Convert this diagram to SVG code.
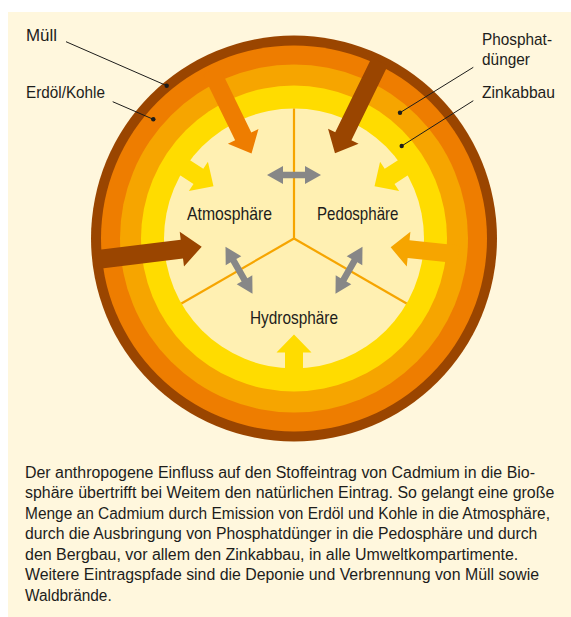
<svg xmlns="http://www.w3.org/2000/svg" width="571" height="617" viewBox="0 0 571 617">
  <style>
    .t { font-family: "Liberation Sans", Arial, sans-serif; fill: #1d1d1b; }
    .lbl { font-size: 17px; }
    .cmp { font-size: 18.5px; }
    .par { font-size: 16px; }
    .lead { stroke: #1d1d1b; stroke-width: 1; fill: none; }
    .dot { fill: #1d1d1b; }
    .div { stroke: #f6a500; stroke-width: 2.2; fill: none; }
    .brown { fill: #9a4500; }
    .orange { fill: #ee7d00; }
    .amber { fill: #f6a500; }
    .yellow { fill: #ffdc00; }
    .gray { fill: #878787; }
  </style>
  <defs>
    <polygon id="yarrow" points="140,-9 114,-9 114,-17.5 96,0 114,17.5 114,9 140,9"/>
    <polygon id="garrow" points="-27,-63.5 -11,-72.5 -11,-66.8 11,-66.8 11,-72.5 27,-63.5 11,-54.5 11,-60.2 -11,-60.2 -11,-54.5"/>
  </defs>
  <rect x="8" y="12" width="563" height="605" fill="#fff7dd"/>

  <g id="rings">
    <circle cx="294" cy="238.5" r="203" class="brown"/>
    <circle cx="294" cy="238.5" r="193" class="orange"/>
    <circle cx="294" cy="238.5" r="174" class="amber"/>
    <circle cx="294" cy="238.5" r="153" class="yellow"/>
    <circle cx="294" cy="238.5" r="130" fill="#fff0b2"/>
  </g>

  <g id="dividers">
    <line x1="294" y1="238.5" x2="294" y2="108.5" class="div"/>
    <line x1="294" y1="238.5" x2="181.4" y2="303.5" class="div"/>
    <line x1="294" y1="238.5" x2="406.6" y2="303.5" class="div"/>
  </g>

  <g id="node-atmosphaere"><text class="t cmp" x="187" y="220" textLength="85" lengthAdjust="spacingAndGlyphs">Atmosphäre</text></g>
  <g id="node-pedosphaere"><text class="t cmp" x="317" y="220" textLength="81.5" lengthAdjust="spacingAndGlyphs">Pedosphäre</text></g>
  <g id="node-hydrosphaere"><text class="t cmp" x="250" y="323.5" textLength="88" lengthAdjust="spacingAndGlyphs">Hydrosphäre</text></g>

  <g id="node-muell"><text class="t lbl" x="26" y="41" textLength="31" lengthAdjust="spacingAndGlyphs">Müll</text></g>
  <g id="node-erdoel"><text class="t lbl" x="26" y="98" textLength="79" lengthAdjust="spacingAndGlyphs">Erdöl/Kohle</text></g>
  <g id="node-phosphat">
    <text class="t lbl" x="482" y="45" textLength="70" lengthAdjust="spacingAndGlyphs">Phosphat-</text>
    <text class="t lbl" x="482" y="65" textLength="48" lengthAdjust="spacingAndGlyphs">dünger</text>
  </g>
  <g id="node-zink"><text class="t lbl" x="482" y="98" textLength="73" lengthAdjust="spacingAndGlyphs">Zinkabbau</text></g>

  <g id="connectors">
    <polygon class="orange" points="0,-9 73,-9 73,-17 92,0 73,17 73,9 0,9" transform="translate(211.2 70.8) rotate(64)"/>
    <polygon class="brown" points="0,-9 83,-9 83,-17 102,0 83,17 83,9 0,9" transform="translate(379.7 61.6) rotate(116)"/>
    <polygon class="brown" points="0,-9.5 86,-9.5 86,-17.5 106,0 86,17.5 86,9.5 0,9.5" transform="translate(96.5 259.6) rotate(-7)"/>
    <polygon class="amber" points="0,-9 50,-9 50,-17.5 68,0 50,17.5 50,9 0,9" transform="translate(458.3 254.4) rotate(186)"/>
    <g class="yellow" transform="translate(294 238.5)">
      <use href="#yarrow" transform="rotate(90)"/>
      <use href="#yarrow" transform="rotate(213)"/>
      <use href="#yarrow" transform="rotate(327)"/>
    </g>
    <g class="gray" transform="translate(294 238.5)">
      <use href="#garrow"/>
      <use href="#garrow" transform="rotate(120)"/>
      <use href="#garrow" transform="rotate(240)"/>
    </g>
    <line class="lead" x1="66" y1="41.7" x2="166.7" y2="85.7"/>
    <circle class="dot" cx="166.7" cy="85.7" r="2.2"/>
    <line class="lead" x1="112.7" y1="101.7" x2="153.3" y2="119.3"/>
    <circle class="dot" cx="153.3" cy="119.3" r="2.2"/>
    <line class="lead" x1="473.3" y1="67.3" x2="400" y2="112.7"/>
    <circle class="dot" cx="400" cy="112.7" r="2.2"/>
    <line class="lead" x1="473.3" y1="100.7" x2="401.7" y2="146"/>
    <circle class="dot" cx="401.7" cy="146" r="2.2"/>
  </g>

  <g id="caption">
    <text class="t par" x="25" y="477.7" textLength="510" lengthAdjust="spacingAndGlyphs">Der anthropogene Einfluss auf den Stoffeintrag von Cadmium in die Bio-</text>
    <text class="t par" x="25" y="498.2" textLength="529.3" lengthAdjust="spacingAndGlyphs">sphäre übertrifft bei Weitem den natürlichen Eintrag. So gelangt eine große</text>
    <text class="t par" x="25" y="518.7" textLength="525" lengthAdjust="spacingAndGlyphs">Menge an Cadmium durch Emission von Erdöl und Kohle in die Atmosphäre,</text>
    <text class="t par" x="25" y="539.2" textLength="512.3" lengthAdjust="spacingAndGlyphs">durch die Ausbringung von Phosphatdünger in die Pedosphäre und durch</text>
    <text class="t par" x="25" y="559.7" textLength="493.3" lengthAdjust="spacingAndGlyphs">den Bergbau, vor allem den Zinkabbau, in alle Umweltkompartimente.</text>
    <text class="t par" x="25" y="580.2" textLength="514" lengthAdjust="spacingAndGlyphs">Weitere Eintragspfade sind die Deponie und Verbrennung von Müll sowie</text>
    <text class="t par" x="25" y="600.7" textLength="86.7" lengthAdjust="spacingAndGlyphs">Waldbrände.</text>
  </g>
</svg>
